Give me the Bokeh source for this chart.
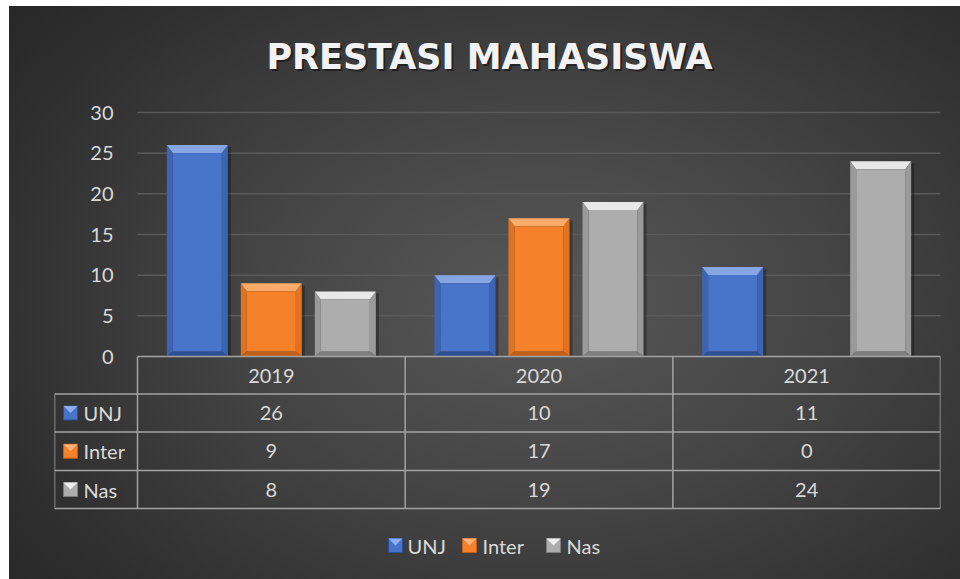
from bokeh.plotting import figure
from bokeh.models import Range1d, FixedTicker
from bokeh.core.properties import value
from bokeh.embed import file_html
from bokeh.resources import INLINE

# ---------------- data ----------------
title_text = "PRESTASI MAHASISWA"
years = ["2019", "2020", "2021"]
series_names = ["UNJ", "Inter", "Nas"]
unj = [26, 10, 11]
inter = [9, 17, 0]
nas = [8, 19, 24]
y_ticks = [0, 5, 10, 15, 20, 25, 30]

series_values = [unj, inter, nas]

# ---------------- styles ----------------
face_colors = ["#4874ca", "#f5822a", "#adadad"]
top_colors = ["#86a6e3", "#f9ab6a", "#e8e8e8"]
side_colors = ["#3c64b4", "#e3721f", "#9a9a9a"]
bottom_colors = ["#2d4f96", "#c45f16", "#7e7e7e"]
key_hi = ["#8fb0ec", "#fbb27a", "#f0f0f0"]

TEXT = "#d9d9d9"
LINE = "#a3a3a3"
FONT = value("Lato")

W, H = 960, 579
PXX = 1 / 267.67          # data units per pixel (x)
PXY = 1 / 8.133           # data units per pixel (y)
X0_PX = 137               # pixel column of x = 0
Y0_PX = 356               # pixel row of y = 0
FRAME_L, FRAME_R = 54, 940

x_lo = -(X0_PX - FRAME_L) * PXX
x_hi = (FRAME_R - X0_PX) * PXX
y_hi = Y0_PX * PXY
y_lo = -(H - Y0_PX) * PXY

p = figure(width=W, height=H, x_range=Range1d(x_lo, x_hi), y_range=Range1d(y_lo, y_hi),
           output_backend="svg", toolbar_location=None, x_axis_location=None,
           min_border_left=FRAME_L, min_border_right=W - FRAME_R, min_border_top=0, min_border_bottom=0)
p.border_fill_color = None
p.background_fill_color = None
p.outline_line_color = None
p.styles = {
    "background-color": "#ffffff",
    "background-image": "radial-gradient(ellipse 75% 85% at 56% 52%, #585858 0%, #454545 40%, #2f2f2f 80%, #262626 100%)",
    "background-repeat": "no-repeat",
    "background-position": "9px 6px",
    "background-size": "calc(100% - 9px) calc(100% - 6px)",
}
p.xgrid.visible = False
p.ygrid.visible = False

ax = p.yaxis[0]
ax.ticker = FixedTicker(ticks=y_ticks)
ax.fixed_location = (113 + 6 - X0_PX) * PXX
ax.axis_line_color = None
ax.major_tick_line_color = None
ax.minor_tick_line_color = None
ax.major_tick_out = 0
ax.major_label_standoff = 6
ax.major_label_text_font = "Lato"
ax.major_label_text_font_size = "20px"
ax.major_label_text_color = TEXT

# gridlines
grid_y = [t for t in y_ticks if t > 0]
p.segment(x0=[0] * len(grid_y), x1=[len(years)] * len(grid_y), y0=grid_y, y1=grid_y,
          line_color="#5a5a5a", line_width=1.5)

# title
tx = (489 - X0_PX) * PXX
ty = (Y0_PX - 56) * PXY
p.text(x=[tx], y=[ty], text=[title_text], text_font=value("DejaVu Sans"), text_font_style="bold",
       text_font_size="35px", text_align="center", text_baseline="middle",
       text_color="black", text_alpha=0.45, x_offset=2, y_offset=2)
p.text(x=[tx], y=[ty], text=[title_text], text_font=value("DejaVu Sans"), text_font_style="bold",
       text_font_size="35px", text_align="center", text_baseline="middle", text_color="#f2f2f2")

# bars with bevel
bar_w = 61 * PXX
dodge = 74 * PXX
bx = 6 * PXX
bt = 8 * PXY
bb = 5 * PXY
for s, vals in enumerate(series_values):
    off = (s - 1) * dodge
    sx, sy = [], []
    fl, fr, fb, ft = [], [], [], []
    top_x, top_y, side_x, side_y, bot_x, bot_y = [], [], [], [], [], []
    for j, v in enumerate(vals):
        if v <= 0:
            continue
        c = j + 0.5 + off
        l, r = c - bar_w / 2, c + bar_w / 2
        sx.append([l + 3 * PXX, r + 3 * PXX, r + 3 * PXX, l + 3 * PXX])
        sy.append([0, 0, v - 2 * PXY, v - 2 * PXY])
        fl.append(l + bx); fr.append(r - bx); fb.append(bb); ft.append(v - bt)
        top_x.append([l, r, r - bx, l + bx]); top_y.append([v, v, v - bt, v - bt])
        side_x.append([l, l + bx, l + bx, l]); side_y.append([0, bb, v - bt, v])
        side_x.append([r, r - bx, r - bx, r]); side_y.append([0, bb, v - bt, v])
        bot_x.append([l, r, r - bx, l + bx]); bot_y.append([0, 0, bb, bb])
    p.patches(xs=sx, ys=sy, fill_color="black", fill_alpha=0.3, line_color=None)
    p.patches(xs=side_x, ys=side_y, fill_color=side_colors[s], line_color=None)
    p.patches(xs=bot_x, ys=bot_y, fill_color=bottom_colors[s], line_color=None)
    p.patches(xs=top_x, ys=top_y, fill_color=top_colors[s], line_color=None)
    p.quad(left=fl, right=fr, bottom=fb, top=ft, fill_color=face_colors[s], line_color=None)

# data table
rows_px = [0, 37.5, 75.5, 114, 152]
n = len(years)
hx0 = [0] + [x_lo] * 4
hx1 = [n] * 5
hy = [-r * PXY for r in rows_px]
p.segment(x0=hx0, x1=hx1, y0=hy, y1=hy, line_color=LINE, line_width=1.5)
vx = [x_lo] + list(range(n + 1))
vy0 = [-37.5 * PXY] + [0] * (n + 1)
vy1 = [-152 * PXY] * (n + 2)
p.segment(x0=vx, x1=vx, y0=vy0, y1=vy1, line_color=LINE, line_width=1.5)

p.text(x=[j + 0.5 for j in range(n)], y=[-19 * PXY] * n, text=years, text_font=FONT,
       text_font_size="20px", text_color=TEXT, text_align="center", text_baseline="middle")

row_c = [-(rows_px[i + 1] + rows_px[i + 2]) / 2 * PXY for i in range(3)]
for s, vals in enumerate(series_values):
    p.text(x=[j + 0.5 for j in range(n)], y=[row_c[s]] * n, text=[str(v) for v in vals],
           text_font=FONT, text_font_size="20px", text_color=TEXT,
           text_align="center", text_baseline="middle")


def key(cx, cy, s):
    h = 7
    p.rect(x=[cx], y=[cy], width=14, height=14, width_units="screen", height_units="screen",
           fill_color=face_colors[s], line_color=bottom_colors[s], line_width=1)
    p.patch(x=[cx - h * PXX, cx + h * PXX, cx], y=[cy + h * PXY, cy + h * PXY, cy],
            fill_color=key_hi[s], line_color=None)


key_x = (70 - X0_PX) * PXX
lab_x = (83 - X0_PX) * PXX
for s, name in enumerate(series_names):
    key(key_x, row_c[s], s)
    p.text(x=[lab_x], y=[row_c[s]], text=[name], text_font=FONT, text_font_size="20px",
           text_color=TEXT, text_align="left", text_baseline="middle")

# bottom legend
leg_y = -(545 - Y0_PX) * PXY
leg_keys = [395, 469, 553]
leg_text = [407, 482, 566]
for s, name in enumerate(series_names):
    key((leg_keys[s] - X0_PX) * PXX, leg_y, s)
    p.text(x=[(leg_text[s] - X0_PX) * PXX], y=[leg_y], text=[name], text_font=FONT,
           text_font_size="20px", text_color=TEXT, text_align="left", text_baseline="middle")

open("out.html", "w").write(file_html(p, INLINE))
